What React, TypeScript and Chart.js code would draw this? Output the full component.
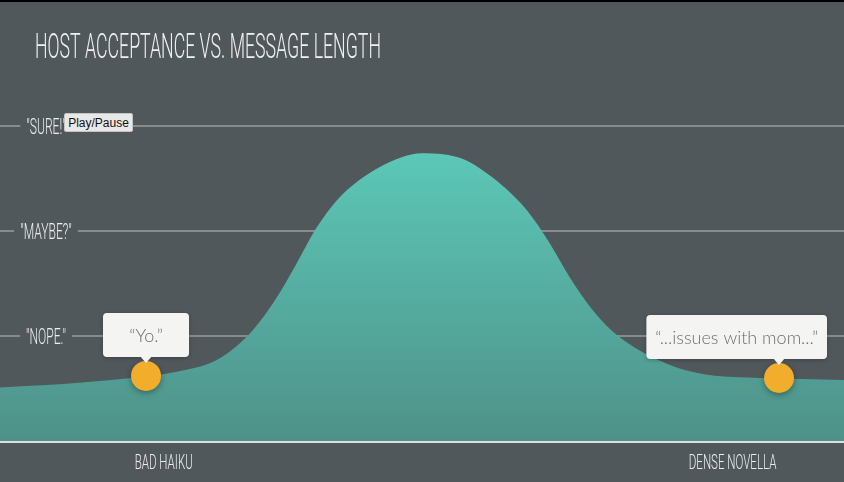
import React, { useEffect, useRef } from 'react';
import { Chart, registerables } from 'chart.js';

Chart.register(...registerables);

// ---- data ----
const chartTitle = 'HOST ACCEPTANCE VS. MESSAGE LENGTH';
const lengthValues = [0, 5, 10, 15, 17.5, 20, 22.5, 25, 27.5, 30, 32.5, 35, 37.5, 40, 42.5, 45, 47.5, 50, 52.5, 55, 57.5, 60, 62.5, 65, 67.5, 70, 72.5, 75, 77.5, 80, 82.5, 85, 90, 95, 100];
const acceptanceValues = [0.51, 0.53, 0.56, 0.595, 0.615, 0.645, 0.685, 0.745, 0.87, 1.06, 1.33, 1.67, 2.03, 2.3, 2.48, 2.61, 2.7, 2.74, 2.73, 2.68, 2.56, 2.4, 2.19, 1.9, 1.56, 1.27, 1.05, 0.9, 0.79, 0.705, 0.65, 0.618, 0.6, 0.59, 0.58];
const markerLength = [17.3, 92.3];
const markerAcceptance = [0.62, 0.6];
const markerQuotes = ['\u201CYo.\u201D', '\u201C...issues with mom...\u201D'];
const yTickValues = [1, 2, 3];
const yTickLabels = ['"NOPE."', '"MAYBE?"', '"SURE!"'];
const xTickValues = [19.4, 86.8];
const xTickLabels = ['BAD HAIKU', 'DENSE NOVELLA'];

// ---- styles ----
const BG = '#51585c';
const NARROW = 0.55;
const HAND_FONT = 'Roboto';

function drawNarrow(ctx: CanvasRenderingContext2D, text: string, x: number, y: number, font: string, align: CanvasTextAlign, sx = NARROW) {
  ctx.save();
  ctx.font = font;
  ctx.translate(x, y);
  ctx.scale(sx, 1);
  ctx.textAlign = align;
  ctx.textBaseline = 'alphabetic';
  ctx.fillText(text, 0, 0);
  ctx.restore();
}

const decorPlugin = {
  id: 'decor',
  beforeDatasetsDraw(chart: any) {
    const ctx: CanvasRenderingContext2D = chart.ctx;
    const ys = chart.scales.y;
    const xs = chart.scales.x;
    const ca = chart.chartArea;
    // y labels with backdrop breaking the grid line
    const yFont = `300 22px ${HAND_FONT}`;
    yTickValues.forEach((v, i) => {
      const py = ys.getPixelForValue(v);
      ctx.save();
      ctx.font = yFont;
      const w = ctx.measureText(yTickLabels[i]).width * NARROW;
      const cx = 46;
      ctx.fillStyle = BG;
      ctx.fillRect(cx - w / 2 - 6, py - 4, w + 12, 8);
      ctx.fillStyle = '#ededed';
      drawNarrow(ctx, yTickLabels[i], cx, py + 7.5, yFont, 'center');
      ctx.restore();
    });
    // x labels
    const xFont = `300 21px ${HAND_FONT}`;
    xTickValues.forEach((v, i) => {
      const px = xs.getPixelForValue(v);
      ctx.save();
      ctx.fillStyle = '#ededed';
      drawNarrow(ctx, xTickLabels[i], px, ca.bottom + 28, xFont, 'center');
      ctx.restore();
    });
    // title
    ctx.save();
    ctx.fillStyle = '#f0f0f0';
    ctx.font = `300 35px ${HAND_FONT}`;
    const tw = ctx.measureText(chartTitle).width;
    drawNarrow(ctx, chartTitle, 35, 58, `300 35px ${HAND_FONT}`, 'left', 346 / tw);
    ctx.restore();
  },
  beforeDatasetDraw(chart: any, args: any) {
    if (args.index === 1) {
      const ctx = chart.ctx;
      ctx.save();
      ctx.shadowColor = 'rgba(0,0,0,0.35)';
      ctx.shadowBlur = 6;
      ctx.shadowOffsetY = 2;
    }
  },
  afterDatasetDraw(chart: any, args: any) {
    if (args.index === 1) {
      chart.ctx.restore();
    }
  },
  afterDatasetsDraw(chart: any) {
    const ctx: CanvasRenderingContext2D = chart.ctx;
    const ca = chart.chartArea;
    const ys = chart.scales.y;
    // baseline
    const by = ys.getPixelForValue(0);
    ctx.save();
    ctx.strokeStyle = '#dfe0de';
    ctx.lineWidth = 2;
    ctx.beginPath();
    ctx.moveTo(0, by + 1);
    ctx.lineTo(chart.width, by + 1);
    ctx.stroke();
    ctx.restore();
    // callouts
    const meta = chart.getDatasetMeta(1);
    meta.data.forEach((el: any, i: number) => {
      const px = el.x;
      const py = el.y;
      ctx.save();
      ctx.font = '300 18px Lato';
      const tw = ctx.measureText(markerQuotes[i]).width;
      const bw = Math.max(86, tw + 18);
      const bh = 44;
      let left = px - bw / 2;
      left = Math.max(ca.left + 10, Math.min(chart.width - 17 - bw, left));
      const bottom = py - 19;
      const top = bottom - bh;
      ctx.shadowColor = 'rgba(0,0,0,0.25)';
      ctx.shadowBlur = 4;
      ctx.shadowOffsetY = 1;
      ctx.fillStyle = '#f4f5f3';
      ctx.beginPath();
      (ctx as any).roundRect(left, top, bw, bh, 4);
      ctx.fill();
      ctx.shadowColor = 'transparent';
      ctx.beginPath();
      ctx.moveTo(px - 6, bottom - 1);
      ctx.lineTo(px + 6, bottom - 1);
      ctx.lineTo(px, bottom + 6);
      ctx.closePath();
      ctx.fill();
      ctx.fillStyle = '#6e6e6e';
      ctx.textAlign = 'center';
      ctx.textBaseline = 'middle';
      ctx.fillText(markerQuotes[i], left + bw / 2, top + bh / 2 + 1);
      ctx.restore();
    });
  },
};

export default function App() {
  const canvasRef = useRef<HTMLCanvasElement | null>(null);

  useEffect(() => {
    if (!canvasRef.current) return;
    const areaData = lengthValues.map((x, i) => ({ x, y: acceptanceValues[i] }));
    const markerData = markerLength.map((x, i) => ({ x, y: markerAcceptance[i] }));
    const chart = new Chart(canvasRef.current, {
      type: 'line',
      data: {
        datasets: [
          {
            data: areaData,
            fill: 'origin',
            order: 1,
            cubicInterpolationMode: 'monotone',
            pointRadius: 0,
            borderWidth: 0,
            borderColor: 'transparent',
            backgroundColor: (c: any) => {
              const ca = c.chart.chartArea;
              if (!ca) return '#55a89c';
              const g = c.chart.ctx.createLinearGradient(0, ca.top, 0, ca.bottom);
              g.addColorStop(0, '#60d0be');
              g.addColorStop(0.31, '#5cc8b7');
              g.addColorStop(1, '#4f9189');
              return g;
            },
          },
          {
            data: markerData,
            order: 0,
            showLine: false,
            pointRadius: 15,
            pointHoverRadius: 15,
            pointBorderWidth: 0,
            pointBackgroundColor: '#f1ad2b',
            borderColor: 'transparent',
            clip: false as any,
          },
        ],
      } as any,
      plugins: [decorPlugin as any],
      options: {
        animation: false,
        responsive: false,
        events: [],
        layout: { autoPadding: false, padding: { top: 21, bottom: 41, left: 0, right: 0 } },
        plugins: { legend: { display: false }, tooltip: { enabled: false }, title: { display: false } },
        scales: {
          x: { type: 'linear', min: 0, max: 100, display: false },
          y: {
            type: 'linear',
            min: 0,
            max: 4,
            display: true,
            border: { display: false },
            ticks: { display: false },
            afterBuildTicks: (scale: any) => {
              scale.ticks = yTickValues.map((v) => ({ value: v }));
            },
            grid: {
              drawTicks: false,
              lineWidth: 2,
              color: '#878b8e',
            },
          },
        },
      } as any,
    });
    return () => chart.destroy();
  }, []);

  return (
    <div style={{ position: 'absolute', left: 0, top: 0, width: 844, height: 482, background: BG, overflow: 'hidden' }}>
      <div style={{ position: 'absolute', left: 0, top: 0, width: 844, height: 2, background: '#000' }} />
      <canvas ref={canvasRef} width={844} height={482} style={{ position: 'absolute', left: 0, top: 0, width: 844, height: 482 }} />
      <div
        style={{
          position: 'absolute',
          left: 64,
          top: 113,
          width: 69,
          height: 19,
          boxSizing: 'border-box',
          background: '#e8e8e8',
          border: '1px solid #c4c4c4',
          borderRadius: 2,
          font: '12px "Liberation Sans", Arial, sans-serif',
          color: '#111',
          display: 'flex',
          alignItems: 'center',
          justifyContent: 'center',
        }}
      >
        Play/Pause
      </div>
    </div>
  );
}
